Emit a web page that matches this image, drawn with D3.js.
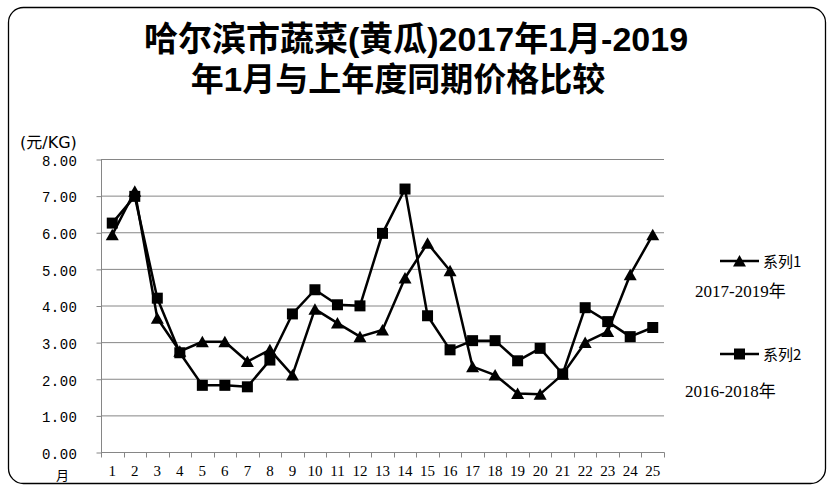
<!DOCTYPE html>
<html><head><meta charset="utf-8">
<script src="https://cdn.jsdelivr.net/npm/d3@7"></script>
<style>body{margin:0;background:#fff}svg{display:block}</style>
</head><body>
<svg id="c" width="834" height="492"></svg>
<script>
const months = ["1","2","3","4","5","6","7","8","9","10","11","12","13","14","15","16","17","18","19","20","21","22","23","24","25"];
const series1 = [5.93, 7.12, 3.65, 2.75, 3.01, 3.01, 2.47, 2.79, 2.10, 3.90, 3.52, 3.15, 3.33, 4.75, 5.70, 4.95, 2.33, 2.10, 1.60, 1.58, 2.12, 2.99, 3.29, 4.84, 5.93];
const series2 = [6.25, 6.98, 4.20, 2.71, 1.82, 1.82, 1.78, 2.51, 3.77, 4.43, 4.02, 3.99, 5.97, 7.18, 3.72, 2.79, 3.04, 3.04, 2.49, 2.83, 2.13, 3.94, 3.56, 3.15, 3.40];
const yTicks = [0, 1, 2, 3, 4, 5, 6, 7, 8];
const titleLines = ["哈尔滨市蔬菜(黄瓜)2017年1月-2019", "年1月与上年度同期价格比较"];
const seriesNames = ["系列1", "系列2"];
const seriesNotes = ["2017-2019年", "2016-2018年"];
const yUnit = "(元/KG)";
const xUnit = "月";

const svg = d3.select("#c");
const plot = {left: 101, right: 664, top: 159, bottom: 452};

// outer border
svg.append("rect").attr("x", 8.5).attr("y", 7.5).attr("width", 817).attr("height", 476)
  .attr("rx", 15).attr("ry", 15).attr("fill", "#fff").attr("stroke", "#000").attr("stroke-width", 1.3);

// title (one text, wrapped over two lines)
const cjk = "'Noto Sans CJK SC', 'Noto Sans', sans-serif";
const title = svg.append("text").attr("text-anchor", "middle")
  .attr("font-family", "'Liberation Sans', 'Noto Sans CJK SC', sans-serif").attr("font-weight", 700).attr("font-size", 33);
title.append("tspan").attr("x", 416).attr("y", 51).attr("font-size", 34).text(titleLines[0]);
title.append("tspan").attr("x", 398).attr("y", 91).text(titleLines[1]);

const x = d3.scaleBand().domain(months).range([plot.left, plot.right]).padding(0);
const y = d3.scaleLinear().domain([0, 8]).range([plot.bottom, plot.top]);

// gridlines
svg.append("g").selectAll("line").data(yTicks.filter(d => d > 0)).join("line")
  .attr("x1", plot.left).attr("x2", plot.right)
  .attr("y1", d => y(d) + 0.5).attr("y2", d => y(d) + 0.5)
  .attr("stroke", "#868686").attr("stroke-width", 1);

// y axis
const yAxis = svg.append("g").attr("transform", `translate(${plot.left + 0.5},0)`)
  .call(d3.axisLeft(y).tickValues(yTicks).tickSize(5).tickPadding(19).tickFormat(d3.format(".2f")));
yAxis.select(".domain").attr("stroke", "#868686").attr("d", `M0,${plot.top}V${plot.bottom + 0.5}`);
yAxis.selectAll(".tick line").attr("stroke", "#868686").attr("transform", "translate(0,0.5)");
yAxis.selectAll(".tick text").attr("font-family", "'Liberation Mono', monospace").attr("font-size", 14)
  .attr("letter-spacing", 0.5).attr("fill", "#000").attr("dy", "0.45em");

// x axis
const xAxis = svg.append("g").attr("transform", `translate(0,${plot.bottom + 0.5})`)
  .call(d3.axisBottom(x).tickSize(0).tickPadding(20));
xAxis.select(".domain").attr("stroke", "#868686").attr("d", `M${plot.left},0H${plot.right + 0.5}`);
xAxis.selectAll(".tick text").attr("font-family", "'Liberation Serif', serif").attr("font-size", 15).attr("fill", "#000").attr("dy", "0.25em");
const bounds = months.map(m => x(m)).concat([plot.right]);
xAxis.append("g").selectAll("line").data(bounds).join("line")
  .attr("x1", d => Math.round(d) + 0.5).attr("x2", d => Math.round(d) + 0.5).attr("y1", 0).attr("y2", 5)
  .attr("stroke", "#868686");

// unit labels
svg.append("text").attr("x", 20).attr("y", 148).attr("font-family", "'DejaVu Sans', 'Noto Sans CJK SC', sans-serif")
  .attr("font-size", 16).text(yUnit);
svg.append("text").attr("x", 62.5).attr("y", 480).attr("text-anchor", "middle").attr("font-family", cjk)
  .attr("font-size", 13).text(xUnit);

const cx = i => x(months[i]) + x.bandwidth() / 2;
const tri = "M0,-6L6.5,5.5L-6.5,5.5Z";
const sq = "M-5.5,-5.5H5.5V5.5H-5.5Z";
const line = d3.line().x((d, i) => cx(i)).y(d => y(d));

function drawSeries(data, shape) {
  const g = svg.append("g");
  g.append("path").attr("d", line(data)).attr("fill", "none").attr("stroke", "#000").attr("stroke-width", 2.5)
    .attr("stroke-linejoin", "round");
  g.selectAll("path.m").data(data).join("path").attr("class", "m")
    .attr("transform", (d, i) => `translate(${cx(i)},${y(d)})`).attr("d", shape).attr("fill", "#000");
}
drawSeries(series1, tri);
drawSeries(series2, sq);

// legend
const legend = [
  {name: seriesNames[0], note: seriesNotes[0], shape: tri, ly: 261, noteX: 695, noteY: 297},
  {name: seriesNames[1], note: seriesNotes[1], shape: sq, ly: 354, noteX: 685, noteY: 397}
];
legend.forEach(l => {
  svg.append("line").attr("x1", 720).attr("x2", 759).attr("y1", l.ly).attr("y2", l.ly)
    .attr("stroke", "#000").attr("stroke-width", 2.5);
  svg.append("path").attr("transform", `translate(739.5,${l.ly})`).attr("d", l.shape).attr("fill", "#000");
  svg.append("text").attr("x", 763).attr("y", l.ly + 6).attr("font-family", cjk).attr("font-size", 15).text(l.name);
  svg.append("text").attr("x", l.noteX).attr("y", l.noteY).attr("font-family", "'Liberation Serif', 'Noto Sans CJK SC', serif")
    .attr("font-size", 17).text(l.note);
});
</script>
</body></html>
